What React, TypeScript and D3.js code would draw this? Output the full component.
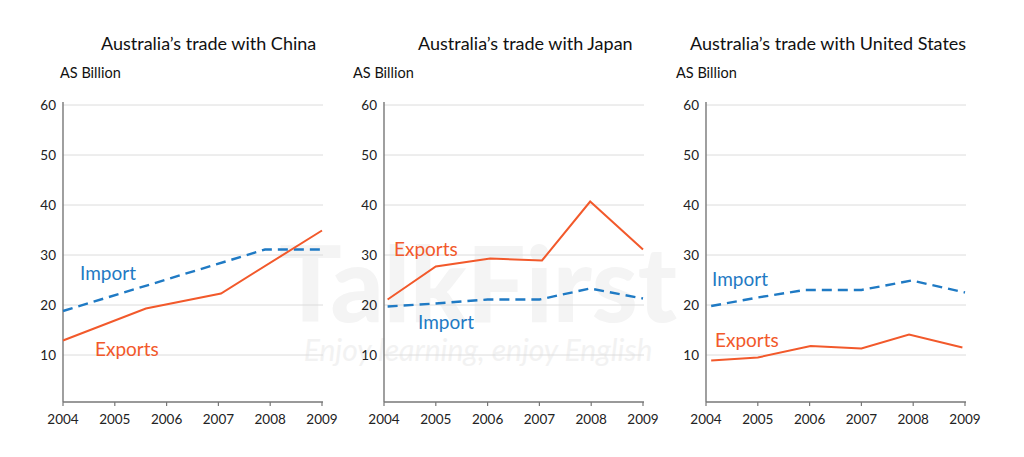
import React from "react";
import * as d3 from "d3";

const years = [2004, 2005, 2006, 2007, 2008, 2009];
const yTicks = [10, 20, 30, 40, 50, 60];

const panelTitles = [
  "Australia\u2019s trade with China",
  "Australia\u2019s trade with Japan",
  "Australia\u2019s trade with United States",
];
const unitLabel = "AS Billion";

// [year, value] points
const chinaExports: [number, number][] = [[2004, 12.9], [2005.6, 19.3], [2007.05, 22.3], [2009, 34.9]];
const chinaImports: [number, number][] = [[2004, 18.8], [2007.9, 31.1], [2009, 31.1]];
const japanExports: [number, number][] = [[2004.07, 21.1], [2005, 27.7], [2006.05, 29.3], [2007.05, 28.9], [2007.98, 40.7], [2009, 31.1]];
const japanImports: [number, number][] = [[2004.07, 19.7], [2005, 20.3], [2006, 21.1], [2007, 21.1], [2007.98, 23.3], [2009, 21.3]];
const usExports: [number, number][] = [[2004.1, 8.9], [2005, 9.5], [2006.02, 11.8], [2007, 11.3], [2007.92, 14.1], [2008.95, 11.5]];
const usImports: [number, number][] = [[2004.1, 19.8], [2005, 21.5], [2005.9, 23], [2007, 23], [2007.97, 24.9], [2009, 22.5]];

const panels = [
  { title: panelTitles[0], exp: chinaExports, imp: chinaImports, x0: 63, x1: 322, titleX: 101, unitX: 60,
    impLabel: [80, 280], expLabel: [95, 356] },
  { title: panelTitles[1], exp: japanExports, imp: japanImports, x0: 384, x1: 643, titleX: 418, unitX: 353,
    impLabel: [418, 329], expLabel: [394, 256] },
  { title: panelTitles[2], exp: usExports, imp: usImports, x0: 706, x1: 965, titleX: 690, unitX: 676,
    impLabel: [712, 286], expLabel: [715, 347] },
];

const ORANGE = "#f2592b";
const BLUE = "#1f7ac4";
const FONT = "Lato, 'Open Sans', sans-serif";

export default function App() {
  const y = d3.scaleLinear().domain([0, 60]).range([405, 105]);
  const axisY = 402;
  return (
    <svg width={1024} height={457} style={{ position: "absolute", left: 0, top: 0, background: "#fff" }}
      fontFamily={FONT}>
      {/* watermark */}
      <text x={478} y={322} textAnchor="middle" fontSize={104} fontWeight={900} fill="#f4f4f4">TalkFirst</text>
      <text x={478} y={361} textAnchor="middle" fontSize={30} fontStyle="italic" fill="#f2f2f2">Enjoy learning, enjoy English</text>
      {panels.map((p, i) => {
        const x = d3.scaleLinear().domain([2004, 2009]).range([p.x0, p.x1]);
        const line = d3.line<[number, number]>().x(d => x(d[0])).y(d => y(d[1]));
        return (
          <g key={i}>
            <text x={p.titleX} y={50} fontSize={18} fill="#111">{p.title}</text>
            <text x={p.unitX} y={78} fontSize={14.5} fill="#111">{unitLabel}</text>
            {yTicks.map(t => (
              <g key={t}>
                <line x1={p.x0} x2={p.x1 + 1} y1={y(t)} y2={y(t)} stroke="#dcdcdc" strokeWidth={1} />
                <text x={p.x0 - 7} y={y(t) + 4.5} textAnchor="end" fontSize={13.5} fill="#222">{t}</text>
              </g>
            ))}
            <line x1={p.x0} x2={p.x0} y1={102} y2={axisY} stroke="#777" strokeWidth={1.4} />
            <line x1={p.x0} x2={p.x1 + 1} y1={axisY} y2={axisY} stroke="#777" strokeWidth={1.4} />
            {years.map(yr => (
              <g key={yr}>
                <line x1={x(yr)} x2={x(yr)} y1={axisY} y2={axisY + 4} stroke="#777" strokeWidth={1.2} />
                <text x={x(yr)} y={424} textAnchor="middle" fontSize={13.5} fill="#222">{yr}</text>
              </g>
            ))}
            <path d={line(p.imp) || ""} fill="none" stroke={BLUE} strokeWidth={2.4} strokeDasharray="10,6" />
            <path d={line(p.exp) || ""} fill="none" stroke={ORANGE} strokeWidth={2} />
            <text x={p.impLabel[0]} y={p.impLabel[1]} fontSize={19} fill={BLUE}>Import</text>
            <text x={p.expLabel[0]} y={p.expLabel[1]} fontSize={19} fill={ORANGE}>Exports</text>
          </g>
        );
      })}
    </svg>
  );
}
